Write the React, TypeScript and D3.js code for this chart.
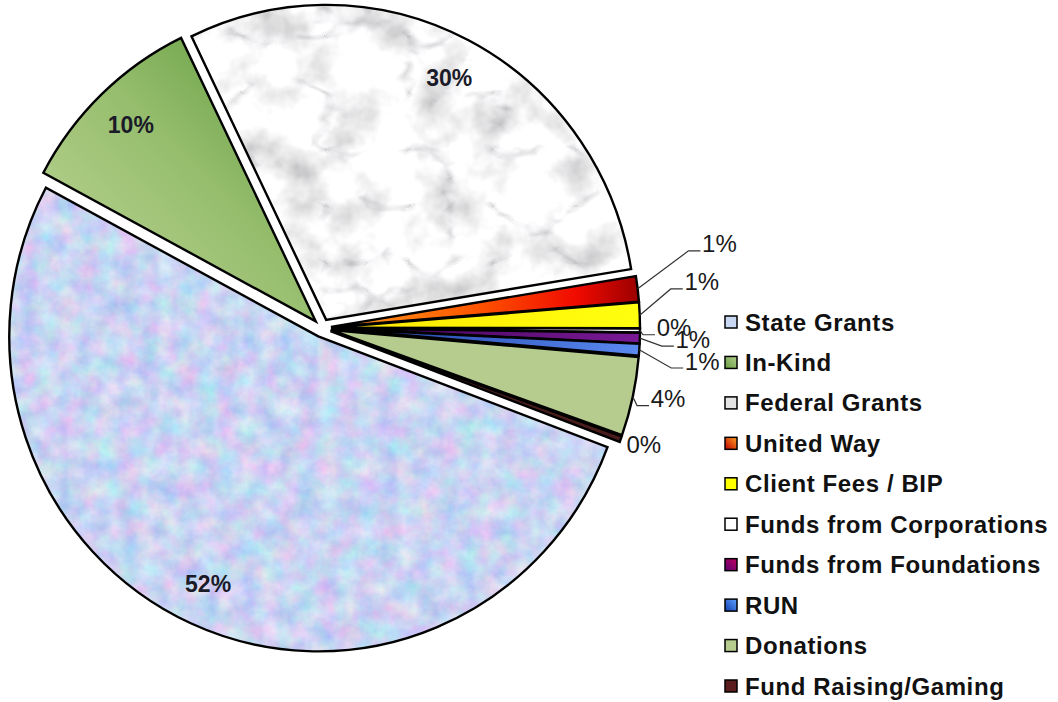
import React from 'react';
import * as d3 from 'd3';

// funding sources, clockwise starting from State Grants
const categories = [
  'State Grants',
  'In-Kind',
  'Federal Grants',
  'United Way',
  'Client Fees / BIP',
  'Funds from Corporations',
  'Funds from Foundations',
  'RUN',
  'Donations',
  'Fund Raising/Gaming',
];
const shares = [52.1, 10.0, 29.6, 1.3, 1.3, 0.2, 0.55, 0.6, 4.05, 0.3];

// slice fills (ids refer to defs below)
const sliceFills = [
  '#c9d9f4', 'url(#gInKind)', '#ececec', 'url(#gUnited)', 'url(#gYellow)',
  '#ffffff', 'url(#gFound)', 'url(#gRun)', '#b6cb8e', '#4a1c1c',
];
const sliceTexture = ['tissue', null, 'marble', null, null, null, null, null, null, null];
const legendFills = [
  '#c8d8f2', 'url(#gInKindL)', '#e4e4e4', 'url(#gUnitedL)', '#ffff00',
  '#ffffff', 'url(#gFoundL)', 'url(#gRunL)', '#b6cb8e', '#5a1c1c',
];
// nudges for the outside labels (Excel moved these apart)
const labelNudge = [
  [0, 0], [0, 0], [0, 0], [50, -41], [30, -32], [2, -3], [21, 0], [31, 9], [4, -5], [-7, -6],
];

const W = 1058;
const H = 702;
const cx = 322;
const cy = 328;
const R = 309;
const yScale = 315 / 309;
const explode = 9;
const start = (110.6 * Math.PI) / 180;

export default function App() {
  const pie = d3.pie<number>().sort(null).value(d => d).startAngle(start).endAngle(start + 2 * Math.PI);
  const arcs = pie(shares);
  const arc = d3.arc<d3.PieArcDatum<number>>().innerRadius(0).outerRadius(R);

  const legendY = d3.scalePoint<number>().domain(d3.range(categories.length)).range([322, 686]);

  return (
    <svg width={W} height={H} style={{ position: 'absolute', left: 0, top: 0, background: '#fff' }}
      fontFamily="'Liberation Sans', Arial, sans-serif">
      <defs>
        <linearGradient id="gInKind" x1="0" y1="1" x2="1" y2="0">
          <stop offset="0" stopColor="#c2d89c" />
          <stop offset="0.55" stopColor="#95bd6c" />
          <stop offset="1" stopColor="#5a9638" />
        </linearGradient>
        <linearGradient id="gUnited" x1="0" y1="0" x2="1" y2="0">
          <stop offset="0" stopColor="#ffa020" />
          <stop offset="0.45" stopColor="#ff5a00" />
          <stop offset="0.8" stopColor="#f00a00" />
          <stop offset="1" stopColor="#9a0000" />
        </linearGradient>
        <linearGradient id="gYellow" x1="0" y1="0" x2="1" y2="0">
          <stop offset="0" stopColor="#ffe800" />
          <stop offset="1" stopColor="#ffff10" />
        </linearGradient>
        <linearGradient id="gFound" x1="0" y1="0" x2="1" y2="0">
          <stop offset="0" stopColor="#3a0050" />
          <stop offset="1" stopColor="#7a1a96" />
        </linearGradient>
        <linearGradient id="gRun" x1="0" y1="0" x2="1" y2="0">
          <stop offset="0" stopColor="#1a3aa0" />
          <stop offset="1" stopColor="#5a8af0" />
        </linearGradient>
        <linearGradient id="gInKindL" x1="0" y1="1" x2="1" y2="0">
          <stop offset="0" stopColor="#6a9a44" />
          <stop offset="1" stopColor="#b2d08a" />
        </linearGradient>
        <linearGradient id="gUnitedL" x1="0" y1="1" x2="1" y2="0">
          <stop offset="0" stopColor="#c00000" />
          <stop offset="1" stopColor="#ffa020" />
        </linearGradient>
        <linearGradient id="gFoundL" x1="0" y1="1" x2="1" y2="0">
          <stop offset="0" stopColor="#5a0070" />
          <stop offset="1" stopColor="#c00060" />
        </linearGradient>
        <linearGradient id="gRunL" x1="0" y1="1" x2="1" y2="0">
          <stop offset="0" stopColor="#1040b0" />
          <stop offset="1" stopColor="#60a0ff" />
        </linearGradient>
        {/* blue tissue-paper look for State Grants */}
        <filter id="tissue" x={-400} y={-400} width={800} height={800} filterUnits="userSpaceOnUse"
          colorInterpolationFilters="sRGB">
          <feTurbulence type="fractalNoise" baseFrequency="0.05" numOctaves={4} seed={3} result="n" />
          <feColorMatrix in="n" type="matrix"
            values="0.38 0 0 0 0.6  0 0.28 0 0 0.69  0 0 0.1 0 0.9  0 0 0 0 1" result="c" />
          <feComposite in="c" in2="SourceGraphic" operator="in" />
        </filter>
        {/* white marble look for Federal Grants */}
        <filter id="marble" x={-400} y={-400} width={800} height={800} filterUnits="userSpaceOnUse">
          <feTurbulence type="fractalNoise" baseFrequency="0.022" numOctaves={4} seed={5} result="n1" />
          <feColorMatrix in="n1" type="matrix"
            values="1.0 0 0 0 0.46  1.0 0 0 0 0.46  1.0 0 0 0 0.47  0 0 0 0 1" result="c1" />
          <feTurbulence type="turbulence" baseFrequency="0.012 0.018" numOctaves={3} seed={8} result="n2" />
          <feColorMatrix in="n2" type="matrix"
            values="1.8 0 0 0 0.72  1.8 0 0 0 0.72  1.8 0 0 0 0.73  0 0 0 0 1" result="c2" />
          <feComposite in="c1" in2="c2" operator="arithmetic" k1={1} k2={0} k3={0} k4={0} result="m" />
          <feComposite in="m" in2="SourceGraphic" operator="in" />
        </filter>
      </defs>

      <g transform={`translate(${cx},${cy}) scale(1,${yScale})`}>
        {arcs.map((a, i) => {
          const mid = (a.startAngle + a.endAngle) / 2;
          const dx = Math.sin(mid) * explode;
          const dy = -Math.cos(mid) * explode;
          const d = arc(a) || '';
          return (
            <g key={i} transform={`translate(${dx},${dy})`}>
              <path d={d} fill={sliceFills[i]} />
              {sliceTexture[i] && <path d={d} fill="#000" filter={`url(#${sliceTexture[i]})`} />}
              <path d={d} fill="none" stroke="#000" strokeWidth={2.4} strokeLinejoin="miter"
                vectorEffect="non-scaling-stroke" />
            </g>
          );
        })}
      </g>

      {arcs.map((a, i) => {
        const mid = (a.startAngle + a.endAngle) / 2;
        const sx = Math.sin(mid);
        const sy = -Math.cos(mid);
        const label = `${Math.round(shares[i])}%`;
        if (shares[i] >= 5) {
          const rr = 267 + explode;
          return (
            <text key={i} x={cx + sx * rr} y={cy + sy * rr * yScale} textAnchor="middle"
              dominantBaseline="central" fontSize={23} fontWeight="bold" fill="#1a1a28">
              {label}
            </text>
          );
        }
        const ro = R + explode;
        const px = cx + sx * ro;
        const py = cy + sy * ro * yScale;
        const rl = ro + 32;
        const lx = cx + sx * rl + labelNudge[i][0];
        const ly = cy + sy * rl * yScale + labelNudge[i][1];
        const showLeader = lx - 17 - px > 12;
        return (
          <g key={i}>
            {showLeader && (
              <polyline points={`${px},${py} ${lx - 31},${ly + 7} ${lx - 19},${ly + 7}`}
                fill="none" stroke="#333" strokeWidth={1.2} />
            )}
            <text x={lx} y={ly} textAnchor="middle" dominantBaseline="central" fontSize={24} fill="#1a1a1a">
              {label}
            </text>
          </g>
        );
      })}

      {categories.map((c, i) => {
        const y = legendY(i) as number;
        return (
          <g key={c}>
            <rect x={725} y={y - 6} width={12} height={12} fill={legendFills[i]} stroke="#000" strokeWidth={1.5} />
            <text x={745} y={y} dominantBaseline="central" fontSize={24} fontWeight="bold"
              letterSpacing={0.6} fill="#111">
              {c}
            </text>
          </g>
        );
      })}
    </svg>
  );
}
